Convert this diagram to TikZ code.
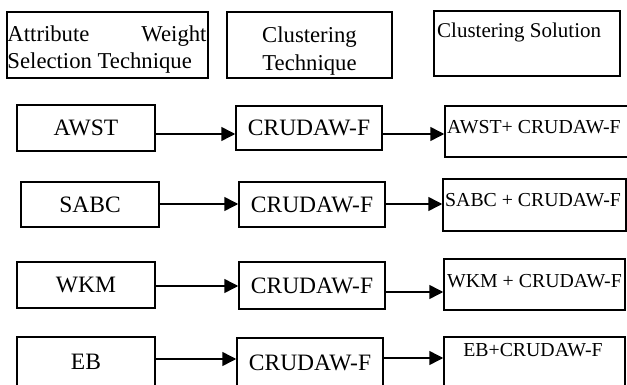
\documentclass[tikz,border=0pt]{standalone}
\usepackage{fontspec}
\setmainfont{Liberation Serif}
\usetikzlibrary{arrows.meta}

\begin{document}
\begin{tikzpicture}[x=1pt, y=-1pt, >={Triangle[length=14pt, width=14pt]},
    box/.style={draw, line width=1.5pt, inner sep=2pt},
    cell/.style={box, font=\fontsize{23.5}{28}\selectfont},
    tag/.style={inner sep=0pt, font=\fontsize{19.8}{24}\selectfont},
    link/.style={->, line width=1.5pt}]

    \useasboundingbox (0,0) rectangle (627,385);

    % --- 1. Header boxes ---
    \node [box, minimum width=201pt, minimum height=66pt] (hdrWeight) at (107.5,45) {};
    \node [inner sep=0pt, text width=199pt, align=justify,
           font=\fontsize{22.7}{27}\selectfont] (hdrWeightText) at (107,50)
        {Attribute\hfill Weight\\Selection Technique};
    \node [box, minimum width=165pt, minimum height=66pt] (hdrTech) at (309.5,45) {};
    \node [inner sep=0pt, align=center, font=\fontsize{22.7}{28}\selectfont] (hdrTechText) at (309.5,51)
        {Clustering\\Technique};
    \node [box, minimum width=186pt, minimum height=65pt] (hdrSol) at (527,43.5) {};
    \node [tag, anchor=base west, font=\fontsize{21}{25}\selectfont] (hdrSolText) at (437,38)
        {Clustering Solution};

    % --- 2. Attribute weight techniques (left column) ---
    \node [cell, minimum width=138pt, minimum height=46pt] (awst) at (86,128) {AWST};
    \node [cell, minimum width=138pt, minimum height=45pt] (sabc) at (90,204.5) {SABC};
    \node [cell, minimum width=138pt, minimum height=46pt] (wkm) at (86,285) {WKM};
    \node [cell, minimum width=138pt, minimum height=50pt] (eb) at (86,362) {EB};

    % --- 3. Clustering technique (middle column) ---
    \node [cell, minimum width=146pt, minimum height=44pt] (crudA) at (309,128) {CRUDAW-F};
    \node [cell, minimum width=146pt, minimum height=45pt] (crudB) at (312,204.5) {CRUDAW-F};
    \node [cell, minimum width=146pt, minimum height=47pt] (crudC) at (312,285.5) {CRUDAW-F};
    \node [cell, minimum width=146pt, minimum height=50pt] (crudD) at (310,363) {CRUDAW-F};

    % --- 4. Clustering solutions (right column) ---
    \node [box, minimum width=185pt, minimum height=51pt] (solA) at (537.5,131.5) {};
    \node [box, minimum width=183pt, minimum height=52pt] (solB) at (534.5,205) {};
    \node [box, minimum width=181pt, minimum height=51pt] (solC) at (534.5,284.5) {};
    \node [box, minimum width=181pt, minimum height=51pt] (solD) at (534.5,362.5) {};
    \node [tag, anchor=base west] (solAText) at (447,134) {AWST+ CRUDAW-F};
    \node [tag, anchor=base west] (solBText) at (445,207) {SABC + CRUDAW-F};
    \node [tag, anchor=base west] (solCText) at (447,287) {WKM + CRUDAW-F};
    \node [tag, anchor=base] (solDText) at (533,356) {EB+CRUDAW-F};

    % --- 5. Arrows ---
    \draw [link] (awst.east |- 0,134) -- (crudA.west |- 0,134);
    \draw [link] (crudA.east |- 0,134) -- (solA.west |- 0,134);
    \draw [link] (sabc.east |- 0,204) -- (crudB.west |- 0,204);
    \draw [link] (crudB.east |- 0,204) -- (solB.west |- 0,204);
    \draw [link] (wkm.east |- 0,286) -- (crudC.west |- 0,286);
    \draw [link] (crudC.east |- 0,292) -- (solC.west |- 0,292);
    \draw [link] (eb.east |- 0,359) -- (crudD.west |- 0,359);
    \draw [link] (crudD.east |- 0,358) -- (solD.west |- 0,358);

\end{tikzpicture}
\end{document}
